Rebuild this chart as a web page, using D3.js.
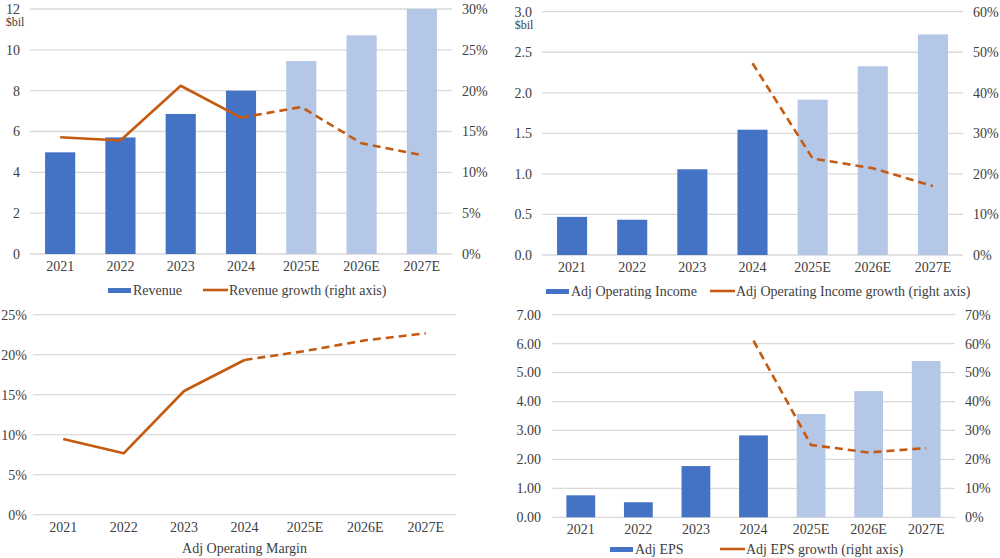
<!DOCTYPE html>
<html>
<head>
<meta charset="utf-8">
<script src="https://cdn.jsdelivr.net/npm/d3@7"></script>
<style>
  body { margin: 0; background: #fff; }
</style>
</head>
<body>
<svg width="1000" height="558"></svg>
<script>
// Data
const years = ["2021", "2022", "2023", "2024", "2025E", "2026E", "2027E"]
const actual_count = 4 // first 4 years are actuals, rest are estimates

const revenue = [4.98, 5.71, 6.86, 8.0, 9.45, 10.71, 12.0]
const revenue_growth = [0.143, 0.139, 0.206, 0.167, 0.180, 0.1355, 0.121]

const op_income = [0.47, 0.435, 1.057, 1.545, 1.915, 2.327, 2.72]
const op_income_growth = [null, null, null, 0.473, 0.238, 0.214, 0.170]

const op_margin = [0.0946, 0.0767, 0.1546, 0.1934, 0.2046, 0.218, 0.2267]

const eps = [0.76, 0.52, 1.77, 2.83, 3.57, 4.36, 5.40]
const eps_growth = [null, null, null, 0.610, 0.250, 0.224, 0.239]

const dark_blue = "#4472C4"
const light_blue = "#B4C7E7"
const orange = "#C55A11"
const grid_color = "#D9D9D9"
const text_color = "#404040"
const font = "'Liberation Serif'"

const svg = d3.select("svg")

function addText(g, x, y, str, anchor, size) {
    return g.append("text")
        .attr("x", x)
        .attr("y", y)
        .attr("dy", "0.35em")
        .attr("text-anchor", anchor)
        .style("font-family", font)
        .style("font-size", size || "14px")
        .style("fill", text_color)
        .text(str)
}

function drawPanel(opts) {
    const g = svg.append("g")

    const x = d3.scaleBand()
        .domain(years)
        .range([opts.x0, opts.x1])
        .paddingInner(0.5)
        .paddingOuter(0.25)

    const yLeft = d3.scaleLinear()
        .domain([0, opts.leftMax])
        .range([opts.yBottom, opts.yTop])

    // Gridlines + left labels
    const leftTicks = d3.range(0, opts.leftMax + opts.leftStep / 2, opts.leftStep)
    g.selectAll(".grid")
        .data(leftTicks)
        .enter()
        .append("line")
        .attr("x1", opts.x0)
        .attr("x2", opts.x1)
        .attr("y1", d => yLeft(d))
        .attr("y2", d => yLeft(d))
        .attr("stroke", grid_color)
        .attr("stroke-width", 1.3)

    leftTicks.forEach(d => {
        addText(g, opts.x0 - opts.leftGap, yLeft(d), d3.format(opts.leftFormat)(d), "end")
    })

    if (opts.unit) {
        addText(g, opts.unitX, yLeft(opts.leftMax) + 13, opts.unit, "middle", "12px")
    }

    // Right axis
    let yRight = null
    if (opts.rightMax) {
        yRight = d3.scaleLinear()
            .domain([0, opts.rightMax])
            .range([opts.yBottom, opts.yTop])
        const rightTicks = d3.range(0, opts.rightMax + opts.rightStep / 2, opts.rightStep)
        rightTicks.forEach(d => {
            addText(g, opts.x1 + 10, yRight(d), d3.format(".0%")(d), "start")
        })
    }

    // Bars
    if (opts.bars) {
        g.selectAll(".bar")
            .data(opts.bars)
            .enter()
            .append("rect")
            .attr("x", (d, i) => x(years[i]))
            .attr("width", x.bandwidth())
            .attr("y", d => yLeft(d))
            .attr("height", d => yLeft(0) - yLeft(d))
            .attr("fill", (d, i) => i < actual_count ? dark_blue : light_blue)
    }

    // Line: solid for actuals, dashed for estimates
    const lineScale = opts.lineOnLeft ? yLeft : yRight
    const pts = opts.line.map((v, i) => ({ year: years[i], v: v, i: i }))
    const line = d3.line()
        .defined(d => d.v !== null)
        .x(d => x(d.year) + x.bandwidth() / 2)
        .y(d => lineScale(d.v))

    g.append("path")
        .datum(pts.filter(d => d.i < actual_count))
        .attr("d", line)
        .attr("fill", "none")
        .attr("stroke", orange)
        .attr("stroke-width", 2.6)
        .attr("stroke-linejoin", "round")

    g.append("path")
        .datum(pts.filter(d => d.i >= actual_count - 1))
        .attr("d", line)
        .attr("fill", "none")
        .attr("stroke", orange)
        .attr("stroke-width", 2.6)
        .attr("stroke-dasharray", "8,5")

    // X labels
    years.forEach(d => {
        addText(g, x(d) + x.bandwidth() / 2, opts.xLabelY, d, "middle")
    })

    // Legend or title
    if (opts.title) {
        addText(g, (opts.x0 + opts.x1) / 2, opts.legendY, opts.title, "middle")
    }
    if (opts.legend) {
        const lg = opts.legend
        g.append("rect")
            .attr("x", lg.barX)
            .attr("y", opts.legendY - 2)
            .attr("width", 23)
            .attr("height", 5)
            .attr("fill", dark_blue)
        addText(g, lg.barX + 25, opts.legendY, lg.barLabel, "start")
        g.append("line")
            .attr("x1", lg.lineX)
            .attr("x2", lg.lineX + 25)
            .attr("y1", opts.legendY)
            .attr("y2", opts.legendY)
            .attr("stroke", orange)
            .attr("stroke-width", 2.6)
        addText(g, lg.lineX + 26, opts.legendY, lg.lineLabel, "start")
    }
}

drawPanel({
    x0: 30, x1: 452, yTop: 9, yBottom: 254,
    leftMax: 12, leftStep: 2, leftFormat: "d", leftGap: 10,
    rightMax: 0.30, rightStep: 0.05,
    unit: "$bil", unitX: 15,
    bars: revenue, line: revenue_growth,
    xLabelY: 266, legendY: 290,
    legend: { barX: 108, barLabel: "Revenue", lineX: 203, lineLabel: "Revenue growth (right axis)" }
})

drawPanel({
    x0: 542, x1: 963, yTop: 11.7, yBottom: 255,
    leftMax: 3, leftStep: 0.5, leftFormat: ".1f", leftGap: 10,
    rightMax: 0.60, rightStep: 0.10,
    unit: "$bil", unitX: 524,
    bars: op_income, line: op_income_growth,
    xLabelY: 267, legendY: 291,
    legend: { barX: 546, barLabel: "Adj Operating Income", lineX: 710, lineLabel: "Adj Operating Income growth (right axis)" }
})

drawPanel({
    x0: 33, x1: 456, yTop: 314.7, yBottom: 514.7,
    leftMax: 0.25, leftStep: 0.05, leftFormat: ".0%", leftGap: 6,
    lineOnLeft: true,
    line: op_margin,
    xLabelY: 527, legendY: 548,
    title: "Adj Operating Margin"
})

drawPanel({
    x0: 552, x1: 955, yTop: 314.7, yBottom: 517.3,
    leftMax: 7, leftStep: 1, leftFormat: ".2f", leftGap: 11,
    rightMax: 0.70, rightStep: 0.10,
    bars: eps, line: eps_growth,
    xLabelY: 529, legendY: 549,
    legend: { barX: 610, barLabel: "Adj EPS", lineX: 720, lineLabel: "Adj EPS growth (right axis)" }
})
</script>
</body>
</html>
